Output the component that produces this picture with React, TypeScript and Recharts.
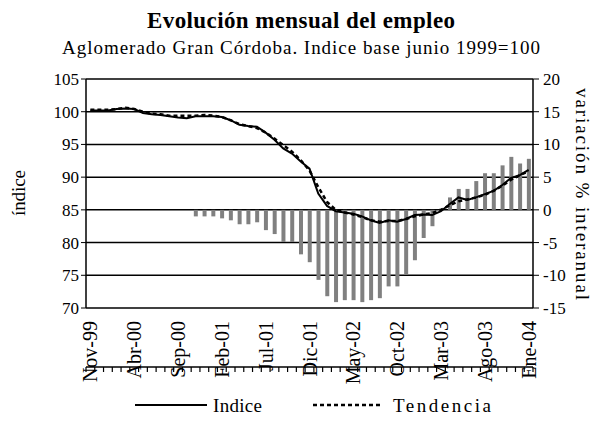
import React from 'react';
import { ComposedChart, Bar, Line, XAxis, YAxis, CartesianGrid } from 'recharts';

const months = [
  'Nov-99','Dic-99','Ene-00','Feb-00','Mar-00','Abr-00','May-00','Jun-00','Jul-00','Ago-00','Sep-00','Oct-00',
  'Nov-00','Dic-00','Ene-01','Feb-01','Mar-01','Abr-01','May-01','Jun-01','Jul-01','Ago-01','Sep-01','Oct-01',
  'Nov-01','Dic-01','Ene-02','Feb-02','Mar-02','Abr-02','May-02','Jun-02','Jul-02','Ago-02','Sep-02','Oct-02',
  'Nov-02','Dic-02','Ene-03','Feb-03','Mar-03','Abr-03','May-03','Jun-03','Jul-03','Ago-03','Sep-03','Oct-03',
  'Nov-03','Dic-03','Ene-04'
];

const indice = [
  100.2, 100.2, 100.2, 100.4, 100.5, 100.4, 99.8, 99.6, 99.5, 99.3, 99.1, 99.0,
  99.3, 99.3, 99.3, 99.2, 98.7, 98.0, 97.8, 97.7, 96.8, 95.7, 94.4, 93.6,
  92.4, 91.3, 87.5, 85.6, 84.8, 84.6, 84.4, 84.0, 83.4, 83.0, 83.4, 83.2,
  83.6, 84.2, 84.3, 84.2, 84.8, 85.9, 86.9, 86.5, 86.9, 87.4, 87.9, 88.8,
  89.9, 90.3, 91.1
];

const tendencia = [
  100.3, 100.3, 100.3, 100.4, 100.6, 100.4, 100.0, 99.7, 99.6, 99.4, 99.4, 99.4,
  99.4, 99.5, 99.4, 99.2, 98.7, 98.1, 97.8, 97.5, 96.8, 95.9, 94.9, 93.9,
  92.6, 91.0, 88.5, 86.2, 85.0, 84.6, 84.3, 83.9, 83.4, 83.2, 83.3, 83.3,
  83.6, 84.0, 84.3, 84.5, 85.0, 85.7, 86.3, 86.6, 86.9, 87.3, 87.9, 88.7,
  89.6, 90.3, 90.9
];

const variacion: (number | null)[] = [
  null, null, null, null, null, null, null, null, null, null, null, null,
  -1.0, -1.0, -1.0, -1.3, -1.6, -2.2, -2.2, -1.9, -3.1, -3.7, -4.9, -4.9,
  -6.8, -8.0, -10.7, -13.2, -14.1, -13.8, -13.8, -14.1, -13.8, -13.5, -11.7, -11.7,
  -9.8, -7.7, -4.3, -2.5, 0.2, 1.9, 3.2, 3.2, 4.4, 5.6, 5.6, 6.8,
  8.1, 7.1, 7.8
];

const leftTicks = [70, 75, 80, 85, 90, 95, 100, 105];
const rightTicks = [-15, -10, -5, 0, 5, 10, 15, 20];

const data = months.map((m, i) => ({ m, idx: i + 0.5, indice: indice[i], tendencia: tendencia[i], variacion: variacion[i] }));
const boundaryTicks = months.map((_, i) => i).concat([months.length]);

const FONT = '"Liberation Serif", "Times New Roman", serif';

const XTick = (props: any) => {
  const { x, y, payload } = props;
  const yy = y + 13;
  return (
    <text x={x} y={yy} transform={`rotate(-90, ${x}, ${yy})`} textAnchor="end" dy="0.35em"
      fontFamily={FONT} fontSize={20} fill="#000">{payload.value}</text>
  );
};

const EmptyTick = () => <g />;

export default function App() {
  const W = 595, H = 416;
  return (
    <div style={{ position: 'relative', width: W, height: H }}>
      <ComposedChart width={W} height={H} data={data}
        margin={{ top: 71, right: 10, bottom: 56, left: 0 }} barCategoryGap="30%">
        <CartesianGrid yAxisId="l" xAxisId="cat" vertical={false} stroke="#000" strokeWidth={1.5} />
        <XAxis xAxisId="num" type="number" dataKey="idx" domain={[0, months.length]} ticks={boundaryTicks}
          tick={<EmptyTick />} height={1} tickSize={5} axisLine={{ stroke: '#000', strokeWidth: 1.5 }}
          tickLine={{ stroke: '#000', strokeWidth: 1.2 }} allowDataOverflow interval={0} />
        <XAxis xAxisId="cat" dataKey="m" interval={4} height={59} tickSize={0} tickMargin={0}
          axisLine={false} tickLine={false} tick={<XTick />} />
        <YAxis yAxisId="l" orientation="left" width={78} domain={[70, 105]} ticks={leftTicks}
          tickSize={5} tickMargin={2} axisLine={{ stroke: '#000', strokeWidth: 1.5 }}
          tickLine={{ stroke: '#000' }} tick={{ fontFamily: FONT, fontSize: 17, fill: '#000' }} />
        <YAxis yAxisId="r" orientation="right" width={60} domain={[-15, 20]} ticks={rightTicks}
          tickSize={6} tickMargin={4} axisLine={{ stroke: '#000', strokeWidth: 1.5 }}
          tickLine={{ stroke: '#000' }} tick={{ fontFamily: FONT, fontSize: 17, fill: '#000' }} />
        <Bar xAxisId="cat" yAxisId="r" dataKey="variacion" fill="#808080" isAnimationActive={false} />
        <Line xAxisId="cat" yAxisId="l" type="linear" dataKey="tendencia" stroke="#000" strokeWidth={2.5}
          strokeDasharray="4 3" dot={false} isAnimationActive={false} />
        <Line xAxisId="cat" yAxisId="l" type="linear" dataKey="indice" stroke="#000" strokeWidth={2}
          dot={false} isAnimationActive={false} />
      </ComposedChart>
      <svg width={W} height={H} style={{ position: 'absolute', left: 0, top: 0, pointerEvents: 'none' }}>
        <text x={293} y={20} textAnchor="middle" fontFamily={FONT} fontWeight="bold" fontSize={23}
          textLength={308} lengthAdjust="spacing">Evolución mensual del empleo</text>
        <text x={293} y={46} textAnchor="middle" fontFamily={FONT} fontSize={19}
          textLength={478} lengthAdjust="spacing">Aglomerado Gran Córdoba. Indice base junio 1999=100</text>
        <text x={10} y={185} transform="rotate(-90, 10, 185)" textAnchor="middle" dy="0.35em" fontFamily={FONT} fontSize={19}
          textLength={46} lengthAdjust="spacing">índice</text>
        <text x={575} y={186} transform="rotate(90, 575, 186)" textAnchor="middle" dy="0.35em" fontFamily={FONT} fontSize={19}
          textLength={212} lengthAdjust="spacing">variación % interanual</text>
        <line x1={127} y1={397} x2={199} y2={397} stroke="#000" strokeWidth={2} />
        <text x={205} y={397} dy="0.35em" fontFamily={FONT} fontSize={19} textLength={49} lengthAdjust="spacing">Indice</text>
        <line x1={305} y1={397} x2={375} y2={397} stroke="#000" strokeWidth={2.5} strokeDasharray="4 3" />
        <text x={385} y={397} dy="0.35em" fontFamily={FONT} fontSize={19} textLength={98} lengthAdjust="spacing">Tendencia</text>
      </svg>
    </div>
  );
}
